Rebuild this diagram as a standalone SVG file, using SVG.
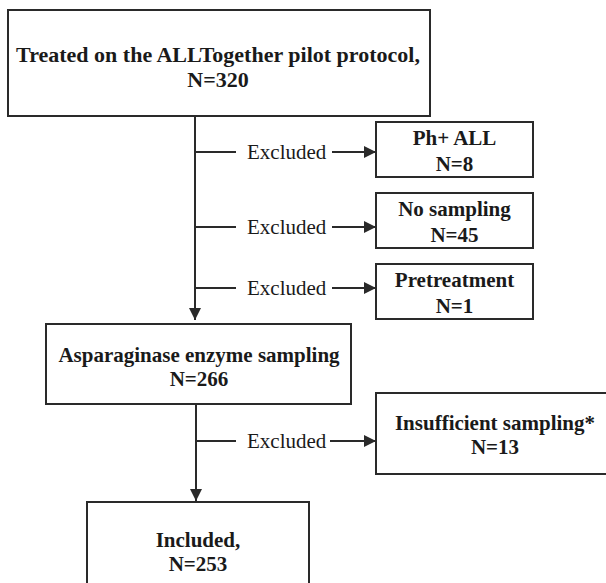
<svg xmlns="http://www.w3.org/2000/svg" width="606" height="583" viewBox="0 0 606 583">
<style>
.box{fill:#fff;stroke:#2a2a2a;stroke-width:2}
.t{font-family:"Liberation Serif","Times New Roman",serif;font-weight:bold;font-size:21px;fill:#1a1a1a;text-anchor:middle}
.big{font-size:22px}
.ex{font-family:"Liberation Serif","Times New Roman",serif;font-size:21px;fill:#1a1a1a}
.ln{stroke:#2a2a2a;stroke-width:2;fill:none}
</style>
<defs>
<marker id="ah" viewBox="0 0 12 12" refX="12" refY="6" markerWidth="12" markerHeight="12" markerUnits="userSpaceOnUse" orient="auto">
<path d="M0,0 L12,6 L0,12 Z" fill="#2a2a2a"/>
</marker>
</defs>
<rect width="606" height="583" fill="#fff"/>
<g id="connectors">
<line class="ln" x1="195" y1="116" x2="195" y2="320" marker-end="url(#ah)"/>
<line class="ln" x1="196" y1="152" x2="236" y2="152"/>
<line class="ln" x1="332" y1="152" x2="376" y2="152" marker-end="url(#ah)"/>
<line class="ln" x1="196" y1="227" x2="236" y2="227"/>
<line class="ln" x1="332" y1="227" x2="376" y2="227" marker-end="url(#ah)"/>
<line class="ln" x1="196" y1="288" x2="236" y2="288"/>
<line class="ln" x1="332" y1="288" x2="376" y2="288" marker-end="url(#ah)"/>
<line class="ln" x1="196" y1="404" x2="196" y2="501" marker-end="url(#ah)"/>
<line class="ln" x1="196" y1="441" x2="236" y2="441"/>
<line class="ln" x1="330" y1="441" x2="376" y2="441" marker-end="url(#ah)"/>
<text class="ex" x="247" y="159">Excluded</text>
<text class="ex" x="247" y="234">Excluded</text>
<text class="ex" x="247" y="295">Excluded</text>
<text class="ex" x="247" y="448">Excluded</text>
</g>
<g id="treated">
<rect class="box" x="8" y="10" width="422" height="106"/>
<text class="t big" x="218" y="62">Treated on the ALLTogether pilot protocol,</text>
<text class="t big" x="218" y="87">N=320</text>
</g>
<g id="phall">
<rect class="box" x="376" y="122" width="157" height="55"/>
<text class="t" x="454.5" y="145">Ph+ ALL</text>
<text class="t" x="454.5" y="171">N=8</text>
</g>
<g id="nosampling">
<rect class="box" x="376" y="193" width="157" height="55"/>
<text class="t" x="454.5" y="216">No sampling</text>
<text class="t" x="454.5" y="242">N=45</text>
</g>
<g id="pretreatment">
<rect class="box" x="376" y="264" width="157" height="55"/>
<text class="t" x="454.5" y="287">Pretreatment</text>
<text class="t" x="454.5" y="313">N=1</text>
</g>
<g id="asparaginase">
<rect class="box" x="46" y="324" width="305" height="80"/>
<text class="t" x="199" y="362">Asparaginase enzyme sampling</text>
<text class="t" x="199" y="386">N=266</text>
</g>
<g id="insufficient">
<rect class="box" x="376" y="393" width="234" height="81"/>
<text class="t" x="495" y="430">Insufficient sampling*</text>
<text class="t" x="495" y="454">N=13</text>
</g>
<g id="included">
<rect class="box" x="87" y="502" width="222" height="82"/>
<text class="t" x="198" y="547">Included,</text>
<text class="t" x="198" y="571">N=253</text>
</g>
</svg>
